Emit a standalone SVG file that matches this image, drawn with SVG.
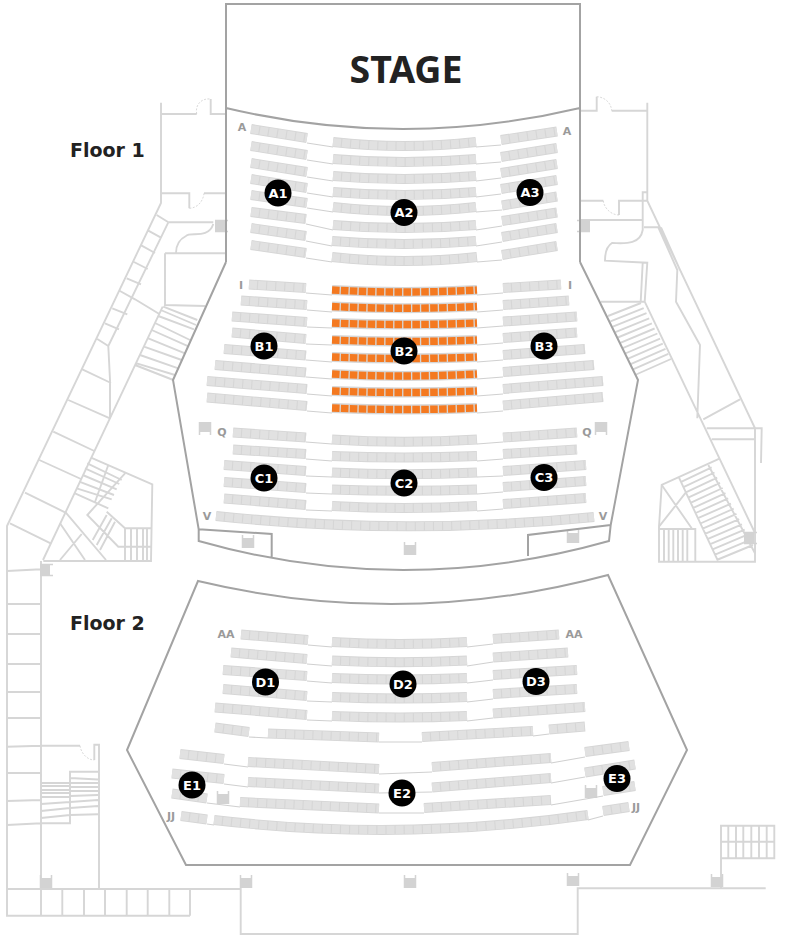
<svg xmlns="http://www.w3.org/2000/svg" xmlns:xlink="http://www.w3.org/1999/xlink" width="800" height="940" viewBox="0 0 800 940">
<style>
.plan{fill:none;stroke:#d6d6d6;stroke-width:1.9}
.door{fill:none;stroke:#cfcfcf;stroke-width:.8;stroke-dasharray:2 1.5}
.wall{fill:none;stroke:#a3a3a3;stroke-width:2}
.aisle{fill:none;stroke:#d0d0d0;stroke-width:1.1}
.base{fill:none;stroke:#d6d6d6;stroke-width:10}
.top{fill:none;stroke:#e1e1e1;stroke-width:8.2;stroke-dasharray:8 1.1}
.ora{fill:none;stroke:#f47920;stroke-width:7.4;stroke-dasharray:7.6 1.33}
.lbl{font:bold 11px "DejaVu Sans",sans-serif;fill:#9a9a9a;text-anchor:middle}
.bt{font:bold 13px "DejaVu Sans",sans-serif;fill:#fff;text-anchor:middle}
.fl{font:bold 19px "DejaVu Sans",sans-serif;fill:#222}
.elv{fill:#d3d3d3}
</style>
<defs>
<g id="ev"><rect x="-5" y="-5" width="10" height="10" class="elv"/><path d="M-5.500 -8V5M5.500 -8V5" fill="none" stroke="#d3d3d3" stroke-width="1.500"/></g>
<path id="rA" d="M251 129L307 138M333 142Q404 150 476 142M501 140L557 131.500M251 146L307 155M333 159Q404 165 476 159M501 157L557 148M251 163L307 172M333 176Q404 182 476 176M501 173L557 164M251 179L307 188M333 192Q404 198 476 192M501 189L557 180M251 195L307 203M333 207Q404 215 476 207M502 205.500L557 196.500M251 212L306 219M333 225Q404 231 476 225M502 221L557 212.500M251 228L306 236M332 241Q404 247 476 241M502 237L557 228M251 245L306 253M332 257Q404 265 477 257M502 255L557 246"/>
<path id="rB1" d="M249 284.500L306 288M503 288L561 284.500M241 300.500L307 305M503 305L569 300.500M232 316.500L307 322M503 321.500L577 316.500M232 332.500L306 339M503 338L577 332.500M224 349L306 355.500M503 355L585 349M215 365L306 372.500M503 372L594 365M207 381L307 389M503 389L603 381M207 397.500L307 406M503 405.500L603 397"/>
<path id="rB2" d="M332 290Q404 294 477 290M332 306.500Q404 310 477 306.500M332 323Q404 326 477 323M332 340Q404 343 477 340M332 357Q404 360 477 357M332 374Q404 378 477 374M332 391Q404 394 477 391M332 408Q404 411 477 408"/>
<path id="rC" d="M233 432.500L306 437.500M332 439.500Q404 444 477 439.500M503 437.500L577 432.500M233 449.500L306 454M332 456Q404 459 477 456M503 454L577 449.500M224 465L306 471M332 472.500Q404 476 477 472.500M503 471L586 465M224 482L306 488M332 489.500Q404 492 477 489.500M503 487L586 481M224 498.500L306 505M332 506Q404 510 477 506M503 504L586 498M216 516Q404 536 594 517"/>
<path id="rD" d="M241 634.500L308 640M332 642Q400 646 467 642M493 639L559 634.500M231 652.500L307 659M332 660.500Q400 664 467 660.500M493 657.500L568 652.500M223 670L307 676M332 678Q400 681 467 678M493 675L577 670M223 689L307 696M332 697Q400 700 467 697M493 694L577 689M215 707.500L307 715M332 716Q400 719 467 716M493 713.500L585 707M215 727.500L249 732M268 733.500L379 737.500M422 737L533 731M549 729.500L585 726.500"/>
<path id="rE" d="M180 754L224 759M248 762L379 769M432 767L551 758M585 752L629 746M172 773.500L224 779M248 782L379 788.500M432 787.500L551 778M585 772.500L635 764.500M172 793.500L207 798.500M240 802L379 808.500M424 808L551 800M603 791L635 786M181 816L207 819.500M214 820Q400 842 588 815M603 811L629 807"/>
</defs>

<g id="building">
<path class="plan" d="M161 102.700V203L7 526V915.700H190M161 114H196.700M210.700 99V114H226M161 193.300H189.300V208.300M204 193.300H226M168.300 222.300H213.300M168.300 222.300L108.300 346L110 380V418.300M213.300 224C208 240 190 231 186 236C180 239 176 245 176 253M165 253.300H226M165 253.300V305L205 306M156.700 215L168 222M148.300 230.700L161 237.700M141.700 245.700L155 253M134 262L147.700 269M126.700 278.300L141 284.300M120 291L135 299.300M112.300 308.300L127.300 314.300M105 323.300L119 329.300M97.300 339L108.300 346M82.300 369.300L111 383M135 299.300L159.300 314"/>
<path class="plan" d="M162.700 306.700L43 560M163.300 306.700L197.300 320M160.700 310L196 325M158.300 316L194 329.300M155 323L190 340M151.700 330L189 346.700M148.300 338.300L185 353.300M144 346.700L181.700 360M140 355L178.300 368.300M136.700 363.300L175 375M135 365L173.300 380"/>
<path class="plan" d="M68.300 400L110 418.300M53.300 431.700L94.300 451M39.300 460L81 479M25 492.700L65 512.300M10 523.300L50.700 543.300M91 457.700L152.300 484.300L151 561H43.300M125 473.300L87.300 515L118.300 546.700H125M108.300 465L95 502M87.300 463.300L121.700 480M85 468.300L119.300 484M82.700 475L116.700 489.300M79.300 481.700L114 495M76.700 488.300L111.700 499.300M75 493.300L108.300 508.300M65 511.700L106 560M60 523.300L85 560M81.700 534L60 560M106.700 511.700L125 528.300H151M125 528.300V561M131 528.300V561M137 528.300V561M143 528.300V561M147 528.300V561M125 546.700H151M106.700 515L92.700 540M111.700 518.300L96.700 545M115 521.700L100 550"/>
<path class="plan" d="M41 561V915.700M7 571L41 569.300M7 604H41M7 634H41M7 664H41M7 692H41M7 718H41M7 746.700L41 745.700H80M94.300 760V744.700H99V889M7 773L41 772.700M7 801L41 800M7 825L41 823.300H70V771.700H98M41 783H70M41 786H70M41 790H70M41 793H70M41 797H70M41 804L70 802M41 811L70 808M41 818L70 815M70 778L98 779.500M70 783L98 783M70 787L98 787M70 791L98 791M70 796L98 795M70 802L98 800M70 808L98 806M70 815L98 814.300M7 889H240.700V934H577.700V888.300H765.700M62.300 889V915.700M84 889V915.700M105 889V915.700M126.700 889V915.700M147.700 889V915.700M169.300 889V915.700M190 889V915.700"/>
<path class="plan" d="M721 888V825.700H774.300V858.300H721M721 841.700H774.300M728.300 825.700V858.300M736 825.700V858.300M743.300 825.700V858.300M751.300 825.700V858.300M759 825.700V858.300M766.700 825.700V858.300"/>
<path class="plan" d="M647.300 102.700V200.700L755 428.300V561.700H659V526.700L661.700 485L720 458.300M580 110.700H596.700V96.700M611.700 110.700H647.300M580 200.700H603.300M619 215V200.700H647.300M642.700 200.700V192.300H647.300M642.700 192.300V230C640 246 622 243 612 243C607 246 605 252 605 260.700L647.300 262.700L644.700 301.700H640.700L642.700 262.700M580 220H642.700M600.700 301.700H640.700M644 227.300H658.300L677.300 270L676 301.700L700 345L697.300 418.300M661 227.300L680 270M703.300 419.300L740 399.300M644.700 301.700L755 533M706.700 428.300H761.700L761 463M711.700 439.300H755"/>
<path class="plan" d="M608 316L641 303M610.500 321.400L643.700 308.100M612.900 326.700L646.500 313.200M615.400 332.100L649.200 318.300M617.800 337.500L651.900 323.400M620.300 342.800L654.600 328.500M622.700 348.200L657.400 333.500M625.200 353.500L660.100 338.600M627.600 358.900L662.800 343.700M630.100 364.300L665.500 348.800M632.500 369.600L668.300 353.900M635 375L671 359"/>
<path class="plan" d="M661.700 485L691.700 528.300M685.700 492.700L659 526.700M659 529H695.300V561.700M664 529V561.700M668.700 529V561.700M673.300 529V561.700M678 529V561.700M682.700 529V561.700M687.300 529V561.700M679 477.700L718.300 561.700M708.300 465L755 553.300M681.700 481.700L711.700 467.300M684 486.900L714.500 472.500M686.400 492.100L717.200 477.700M688.700 497.400L720 482.800M691 502.600L722.700 488M693.400 507.800L725.500 493.200M695.700 513L728.200 498.400M698 518.200L731 503.600M700.400 523.500L733.700 508.700M702.700 528.700L736.500 513.900M705 533.900L739.200 519.100M707.400 539.100L742 524.300M709.700 544.300L744.700 529.500M712 549.600L747.500 534.600M714.400 554.800L750.200 539.800M716.700 560L753 545"/>
<path class="door" d="M196.700 114C195 105 201 98 210.700 99M189.300 208.300C197 208 203 202 204 193.300M80 745.700C81 753 87 760 94.300 760M596.700 96.700C604 97 611 102 611.700 110.700M603.300 200.700C604 208 611 215 619 215"/>
<use href="#ev" transform="translate(45 570) rotate(90)"/>
<use href="#ev" transform="translate(46 883)"/>
<use href="#ev" transform="translate(246 883)"/>
<use href="#ev" transform="translate(410 883)"/>
<use href="#ev" transform="translate(573 881)"/>
<use href="#ev" transform="translate(717 882)"/>
<use href="#ev" transform="translate(220 226) rotate(90)"/>
<use href="#ev" transform="translate(585 226) rotate(-90)"/>
<use href="#ev" transform="translate(205 427) rotate(180)"/>
<use href="#ev" transform="translate(601 427) rotate(180)"/>
<use href="#ev" transform="translate(248 543)"/>
<use href="#ev" transform="translate(410 550)"/>
<use href="#ev" transform="translate(573 538)"/>
<use href="#ev" transform="translate(223 799)"/>
<use href="#ev" transform="translate(591 793)"/>
<use href="#ev" transform="translate(749 538) rotate(90)"/>
</g>

<g id="walls">
<path class="wall" d="M226 262V4H580V262M226 108Q403 150 580 108"/>
<path class="wall" d="M226 262L173 380L198.700 529.300V541Q403 599 609 541L610.700 525L638 380L580 262M198.700 529.300L271.700 534V558M528 556V535L610.700 525"/>
<path class="wall" d="M198 581Q403 630 608 575L687 750L630 865H186L127 750Z"/>
</g>

<g id="connectors">
<path class="aisle" d="M307 143L333 147M476 147L501 145M307 160L333 164M476 164L501 162M307 177L333 181M476 181L501 178M307 193L333 197M476 197L501 194M307 208L333 212M476 212L502 210M306 224L333 230M476 230L502 226M306 241L332 246M476 246L502 242M306 258L332 262M477 262L502 260"/>
<path class="aisle" d="M306 293L332 295M477 295L503 293M307 310L332 312M477 312L503 310M307 327L332 328M477 328L503 326M306 344L332 345M477 345L503 343M306 360L332 362M477 362L503 360M306 377L332 379M477 379L503 377M307 394L332 396M477 396L503 394M307 411L332 413M477 413L503 411"/>
<path class="aisle" d="M306 442L332 444M477 444L503 442M306 459L332 461M477 461L503 459M306 476L332 477M477 477L503 476M306 493L332 494M477 494L503 492M306 510L332 511M477 511L503 509"/>
<path class="aisle" d="M308 645L332 647M467 647L493 644M307 664L332 666M467 666L493 662M307 681L332 683M467 683L493 680M307 701L332 702M467 702L493 699M307 720L332 721M467 721L493 718M249 737L268 738M379 742H422M533 736L549 734"/>
<path class="aisle" d="M224 764L248 767M379 774L432 772M551 763L585 757M224 784L248 787M379 793L432 792M551 783L585 777M207 803L240 807M379 813L424 813M551 805L603 796M207 824L214 825M588 820L603 816"/>
</g>

<g id="seats-a"><use href="#rA" class="base"/><use href="#rA" class="top"/></g>
<g id="seats-b"><use href="#rB1" class="base"/><use href="#rB1" class="top"/><use href="#rB2" class="base"/><use href="#rB2" class="ora"/></g>
<g id="seats-c"><use href="#rC" class="base"/><use href="#rC" class="top"/></g>
<g id="seats-d"><use href="#rD" class="base"/><use href="#rD" class="top"/></g>
<g id="seats-e"><use href="#rE" class="base"/><use href="#rE" class="top"/></g>

<g id="labels">
<text x="406" y="83" font-family="'Noto Sans',sans-serif" font-weight="700" font-size="37.500" fill="#222" text-anchor="middle">STAGE</text>
<text x="70" y="156.500" class="fl">Floor 1</text>
<text x="70" y="630" class="fl">Floor 2</text>
<text x="242" y="131" class="lbl">A</text><text x="567" y="135" class="lbl">A</text>
<text x="241" y="289" class="lbl">I</text><text x="570" y="289" class="lbl">I</text>
<text x="222" y="436" class="lbl">Q</text><text x="587" y="436" class="lbl">Q</text>
<text x="207" y="520" class="lbl">V</text><text x="603" y="520" class="lbl">V</text>
<text x="226" y="638" class="lbl">AA</text><text x="574" y="638" class="lbl">AA</text>
<text x="171" y="820" class="lbl">JJ</text><text x="636" y="811" class="lbl">JJ</text>
</g>

<g id="A1"><circle cx="278" cy="193" r="13.500"/><text x="278" y="197.500" class="bt">A1</text></g>
<g id="A2"><circle cx="404" cy="212.500" r="13.500"/><text x="404" y="217" class="bt">A2</text></g>
<g id="A3"><circle cx="530" cy="192.500" r="13.500"/><text x="530" y="197" class="bt">A3</text></g>
<g id="B1"><circle cx="264" cy="346" r="13.500"/><text x="264" y="350.500" class="bt">B1</text></g>
<g id="B2"><circle cx="404" cy="351" r="13.500"/><text x="404" y="355.500" class="bt">B2</text></g>
<g id="B3"><circle cx="544" cy="346" r="13.500"/><text x="544" y="350.500" class="bt">B3</text></g>
<g id="C1"><circle cx="264" cy="478" r="13.500"/><text x="264" y="482.500" class="bt">C1</text></g>
<g id="C2"><circle cx="404" cy="483" r="13.500"/><text x="404" y="487.500" class="bt">C2</text></g>
<g id="C3"><circle cx="544" cy="477.500" r="13.500"/><text x="544" y="482" class="bt">C3</text></g>
<g id="D1"><circle cx="265.500" cy="682" r="13.500"/><text x="265.500" y="686.500" class="bt">D1</text></g>
<g id="D2"><circle cx="403" cy="684" r="13.500"/><text x="403" y="688.500" class="bt">D2</text></g>
<g id="D3"><circle cx="536" cy="681.500" r="13.500"/><text x="536" y="686" class="bt">D3</text></g>
<g id="E1"><circle cx="192" cy="785" r="13.500"/><text x="192" y="789.500" class="bt">E1</text></g>
<g id="E2"><circle cx="402" cy="793" r="13.500"/><text x="402" y="797.500" class="bt">E2</text></g>
<g id="E3"><circle cx="617" cy="778.500" r="13.500"/><text x="617" y="783" class="bt">E3</text></g>
</svg>
